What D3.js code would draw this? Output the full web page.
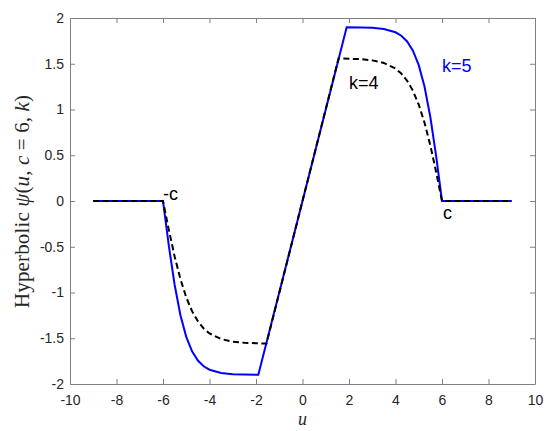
<!DOCTYPE html>
<html>
<head>
<meta charset="utf-8">
<script src="https://cdn.jsdelivr.net/npm/d3@7"></script>
<style>
  body { margin: 0; background: #fff; }
  svg { display: block; }
</style>
</head>
<body>
<svg id="chart" width="550" height="431"></svg>
<script>
// ---- data ----
const xTicks = [-10, -8, -6, -4, -2, 0, 2, 4, 6, 8, 10];
const yTicks = [-2, -1.5, -1, -0.5, 0, 0.5, 1, 1.5, 2];

const uK5 = [-9, -6, -5.75, -5.5, -5.25, -5, -4.75, -4.5, -4.25, -4, -3.5, -3, -2.5, -1.9,
             1.9, 2.5, 3, 3.5, 4, 4.25, 4.5, 4.75, 5, 5.25, 5.5, 5.75, 6, 9];
const psiK5 = [0, 0, -0.488, -0.915, -1.249, -1.485, -1.643, -1.744, -1.806, -1.844, -1.880, -1.893, -1.897, -1.899,
               1.899, 1.897, 1.893, 1.880, 1.844, 1.806, 1.744, 1.643, 1.485, 1.249, 0.915, 0.488, 0, 0];

const uK4 = [-9, -6, -5.75, -5.5, -5.25, -5, -4.75, -4.5, -4.25, -4, -3.5, -3, -2.5, -1.55,
             1.55, 2.5, 3, 3.5, 4, 4.25, 4.5, 4.75, 5, 5.25, 5.5, 5.75, 6, 9];
const psiK4 = [0, 0, -0.315, -0.606, -0.854, -1.053, -1.204, -1.314, -1.393, -1.447, -1.509, -1.537, -1.550, -1.558,
               1.558, 1.550, 1.537, 1.509, 1.447, 1.393, 1.314, 1.204, 1.053, 0.854, 0.606, 0.315, 0, 0];

// ---- layout ----
const svg = d3.select("#chart");
const L = 70, R = 535, T = 18, B = 384;
const x = d3.scaleLinear().domain([-10, 10]).range([L, R]);
const y = d3.scaleLinear().domain([-2, 2]).range([B, T]);
const axisCol = "#808080", textCol = "#262626";
const tickFont = "Liberation Sans, Arial, sans-serif";
const fmt = d => String(d);

function styleAxis(g) {
  g.select(".domain").attr("stroke", axisCol).attr("stroke-width", 1);
  g.selectAll(".tick line").attr("stroke", axisCol);
  g.selectAll(".tick text").attr("fill", textCol).attr("font-family", tickFont).attr("font-size", 14);
}
svg.append("g").attr("transform", `translate(0,${B})`)
  .call(d3.axisBottom(x).tickValues(xTicks).tickSize(-5).tickSizeOuter(0).tickPadding(11).tickFormat(fmt))
  .call(styleAxis);
svg.append("g").attr("transform", `translate(0,${T})`)
  .call(d3.axisTop(x).tickValues(xTicks).tickSize(-5).tickSizeOuter(0).tickFormat(""))
  .call(styleAxis);
svg.append("g").attr("transform", `translate(${L},0)`)
  .call(d3.axisLeft(y).tickValues(yTicks).tickSize(-5).tickSizeOuter(0).tickPadding(6).tickFormat(fmt))
  .call(styleAxis);
svg.append("g").attr("transform", `translate(${R},0)`)
  .call(d3.axisRight(y).tickValues(yTicks).tickSize(-5).tickSizeOuter(0).tickFormat(""))
  .call(styleAxis);

// lines
const line = d3.line().x(d => x(d[0])).y(d => y(d[1]));
svg.append("path").datum(d3.zip(uK5, psiK5)).attr("d", line)
  .attr("fill", "none").attr("stroke", "#0000ff").attr("stroke-width", 2);
svg.append("path").datum(d3.zip(uK4, psiK4)).attr("d", line)
  .attr("fill", "none").attr("stroke", "#000").attr("stroke-width", 2)
  .attr("stroke-dasharray", "6,3.5");

// annotations
const annFont = "Liberation Sans, Arial, sans-serif";
svg.append("text").attr("x", 163).attr("y", 200).attr("font-family", annFont).attr("font-size", 18)
  .attr("fill", "#000").text("-c");
svg.append("text").attr("x", 443).attr("y", 219).attr("font-family", annFont).attr("font-size", 18)
  .attr("fill", "#000").text("c");
svg.append("text").attr("x", 349).attr("y", 89).attr("font-family", annFont).attr("font-size", 18)
  .attr("fill", "#000").text("k=4");
svg.append("text").attr("x", 442).attr("y", 72).attr("font-family", annFont).attr("font-size", 18)
  .attr("fill", "#0000ff").text("k=5");

// axis labels (LaTeX-like serif)
const serif = "Liberation Serif, Times New Roman, serif";
svg.append("text").attr("x", x(0)).attr("y", 425).attr("text-anchor", "middle")
  .attr("font-family", serif).attr("font-size", 18).attr("font-style", "italic").attr("fill", textCol).text("u");

const yl = svg.append("text")
  .attr("transform", `translate(29,201.5) rotate(-90)`)
  .attr("text-anchor", "middle").attr("font-family", serif).attr("font-size", 21).attr("fill", textCol)
  .attr("textLength", 213).attr("lengthAdjust", "spacing");
const parts = [["Hyperbolic ", "normal"], ["ψ", "italic"], ["(", "normal"], ["u", "italic"], [", ", "normal"],
               ["c", "italic"], [" = 6, ", "normal"], ["k", "italic"], [")", "normal"]];
parts.forEach(p => yl.append("tspan").attr("font-style", p[1]).text(p[0]));
</script>
</body>
</html>
